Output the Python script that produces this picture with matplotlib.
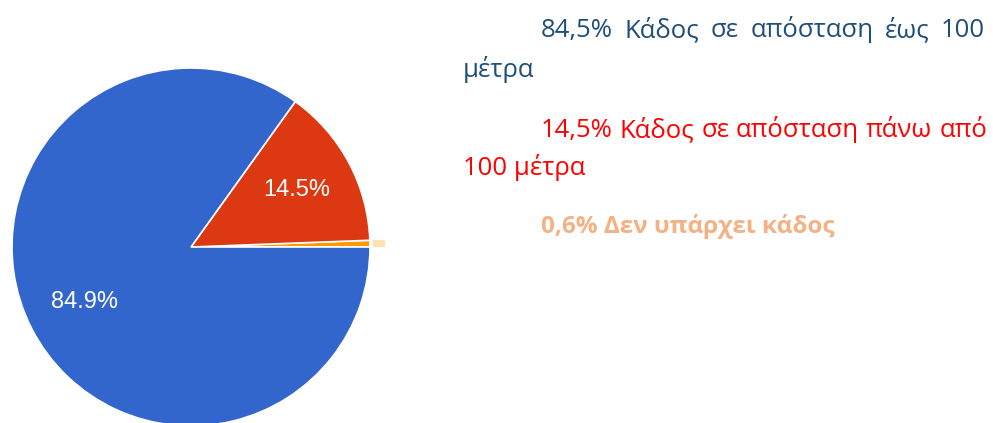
import matplotlib
matplotlib.use("Agg")
import matplotlib.pyplot as plt

# slice data (counter-clockwise from 3 o'clock)
slice_names = ["Δεν υπάρχει κάδος", "Κάδος σε απόσταση πάνω από 100 μέτρα", "Κάδος σε απόσταση έως 100 μέτρα"]
slice_values = [0.6, 14.5, 84.9]
slice_colors = ["#ff9900", "#dc3912", "#3366cc"]
highlight_color = "#ffe0b2"

# annotation lines on the right
note_blue = ["84,5%", "Κάδος", "σε", "απόσταση", "έως", "100"]
note_blue_2 = "μέτρα"
note_red = ["14,5%", "Κάδος", "σε", "απόσταση", "πάνω", "από"]
note_red_2 = "100 μέτρα"
note_orange = "0,6% Δεν υπάρχει κάδος"

W, H, DPI = 993, 423, 100
fig = plt.figure(figsize=(W / DPI, H / DPI), dpi=DPI)
fig.patch.set_facecolor("white")

# pie placement in pixels
cx, cy, r = 191, 247, 179
lim = 1.1
size = 2 * lim * r
ax = fig.add_axes([(cx - size / 2) / W, (H - cy - size / 2) / H, size / W, size / H])
ax.axis("off")

def pct_label(p):
    return f"{p:.1f}%" if p > 5 else ""

wedges, texts, autotexts = ax.pie(
    slice_values, colors=slice_colors, startangle=0, counterclock=True,
    autopct=pct_label, pctdistance=0.67, radius=1.0,
    wedgeprops=dict(edgecolor="white", linewidth=1.2),
    textprops=dict(color="white", fontsize=17, family="Liberation Sans"),
)
ax.set_aspect("equal")

# highlight ring outside the smallest slice
ring_colors = [highlight_color, "none", "none"]
ax.pie(slice_values, colors=ring_colors, startangle=0, counterclock=True,
       radius=1.085, wedgeprops=dict(width=0.07, linewidth=0))
ax.set_xlim(-lim, lim)
ax.set_ylim(-lim, lim)

# right-hand notes
fam = ["Open Sans", "Noto Sans", "DejaVu Sans"]
fs = 18.5

def fx(px):
    return px / W

def fy(py):
    return 1 - py / H

def justified(words, x0, x1, y, color, weight="normal"):
    renderer = fig.canvas.get_renderer()
    objs = [fig.text(fx(x0), fy(y), w, color=color, fontsize=fs, family=fam,
                     fontweight=weight, va="baseline") for w in words]
    widths = [o.get_window_extent(renderer).width for o in objs]
    gap = (x1 - x0 - sum(widths)) / (len(words) - 1)
    x = x0
    for o, w in zip(objs, widths):
        o.set_x(fx(x))
        x += w + gap

justified(note_blue, 541, 985, 37, "#1f4e79")
fig.text(fx(463), fy(77), note_blue_2, color="#1f4e79", fontsize=fs, family=fam, va="baseline")
justified(note_red, 541, 987, 137, "#ff0000")
fig.text(fx(463), fy(175), note_red_2, color="#ff0000", fontsize=fs, family=fam, va="baseline")
fig.text(fx(541), fy(233), note_orange, color="#f4b183", fontsize=17.5, family=fam,
         fontweight="bold", va="baseline")

fig.savefig("out.png", dpi=DPI)
